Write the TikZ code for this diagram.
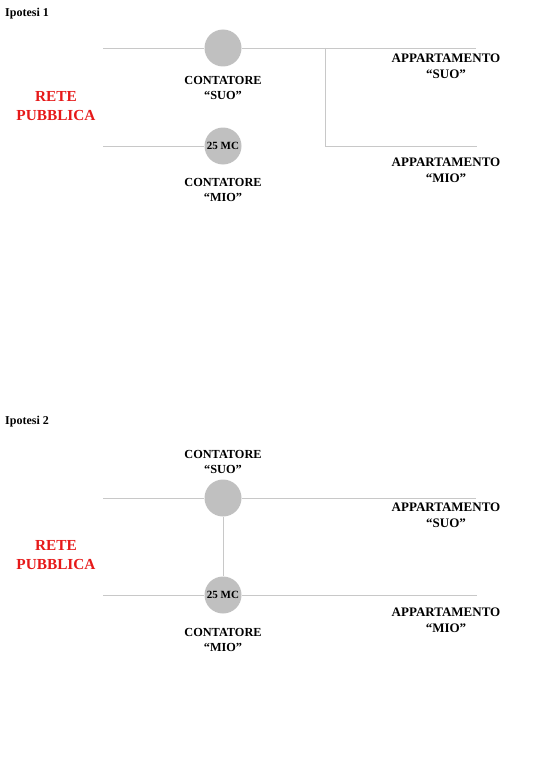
\documentclass[tikz,border=0pt]{standalone}
\usepackage{fontspec}
\setmainfont{Liberation Serif}
\usepackage{xcolor}
\usetikzlibrary{positioning}

\definecolor{pipegray}{RGB}{200,200,200}
\definecolor{meterfill}{RGB}{192,192,192}
\definecolor{retered}{RGB}{230,25,25}

\tikzset{
	meter/.style={circle, fill=meterfill, minimum size=37pt, inner sep=0pt,
		font=\fontsize{11}{13}\selectfont\bfseries},
	pipe/.style={draw=pipegray, line width=0.8pt},
	lbl/.style={align=center, font=\fontsize{12.3}{15}\selectfont\bfseries},
	flat/.style={align=center, font=\fontsize{13}{16}\selectfont\bfseries},
	rete/.style={align=center, text=retered, font=\fontsize{15.3}{19}\selectfont\bfseries},
	titolo/.style={anchor=west, inner sep=0pt, font=\fontsize{12}{14}\selectfont\bfseries}
}

\begin{document}
\begin{tikzpicture}[x=1pt,y=-1pt]
	\useasboundingbox (0,0) rectangle (543,768);

	% Ipotesi 1
	\node[titolo] (tit1) at (5,14) {Ipotesi 1};
	\node[meter] (suo1) at (223,48) {};
	\node[meter] (mio1) at (223,146) {25 MC};
	\node[lbl] (csuo1) at (223,87.5) {CONTATORE\\“SUO”};
	\node[lbl] (cmio1) at (223,190) {CONTATORE\\“MIO”};
	\node[rete] (rete1) at (56,106.5) {RETE\\PUBBLICA};
	\node[flat] (asuo1) at (446,66) {APPARTAMENTO\\“SUO”};
	\node[flat] (amio1) at (446,170.5) {APPARTAMENTO\\“MIO”};
	\coordinate (in1s) at (103,48);
	\coordinate (in1m) at (103,146);
	\coordinate (jn1) at (325,48);
	\coordinate (out1s) at (476,48);
	\coordinate (out1m) at (477,146);

	\draw[pipe] (in1s) -- (suo1);
	\draw[pipe] (in1m) -- (mio1);
	\draw[pipe] (suo1) -- (out1s);
	\draw[pipe] (jn1) |- (out1m);

	% Ipotesi 2
	\node[titolo] (tit2) at (5,422) {Ipotesi 2};
	\node[meter] (suo2) at (223,498) {};
	\node[meter] (mio2) at (223,595) {25 MC};
	\node[lbl] (csuo2) at (223,462) {CONTATORE\\“SUO”};
	\node[lbl] (cmio2) at (223,639.5) {CONTATORE\\“MIO”};
	\node[rete] (rete2) at (56,555.5) {RETE\\PUBBLICA};
	\node[flat] (asuo2) at (446,515.5) {APPARTAMENTO\\“SUO”};
	\node[flat] (amio2) at (446,620) {APPARTAMENTO\\“MIO”};
	\coordinate (in2s) at (103,498);
	\coordinate (in2m) at (103,595);
	\coordinate (out2s) at (476,498);
	\coordinate (out2m) at (477,595);

	\draw[pipe] (in2s) -- (suo2);
	\draw[pipe] (in2m) -- (mio2);
	\draw[pipe] (suo2) -- (out2s);
	\draw[pipe] (mio2) -- (out2m);
	\draw[pipe] (suo2) -- (mio2);
\end{tikzpicture}
\end{document}
